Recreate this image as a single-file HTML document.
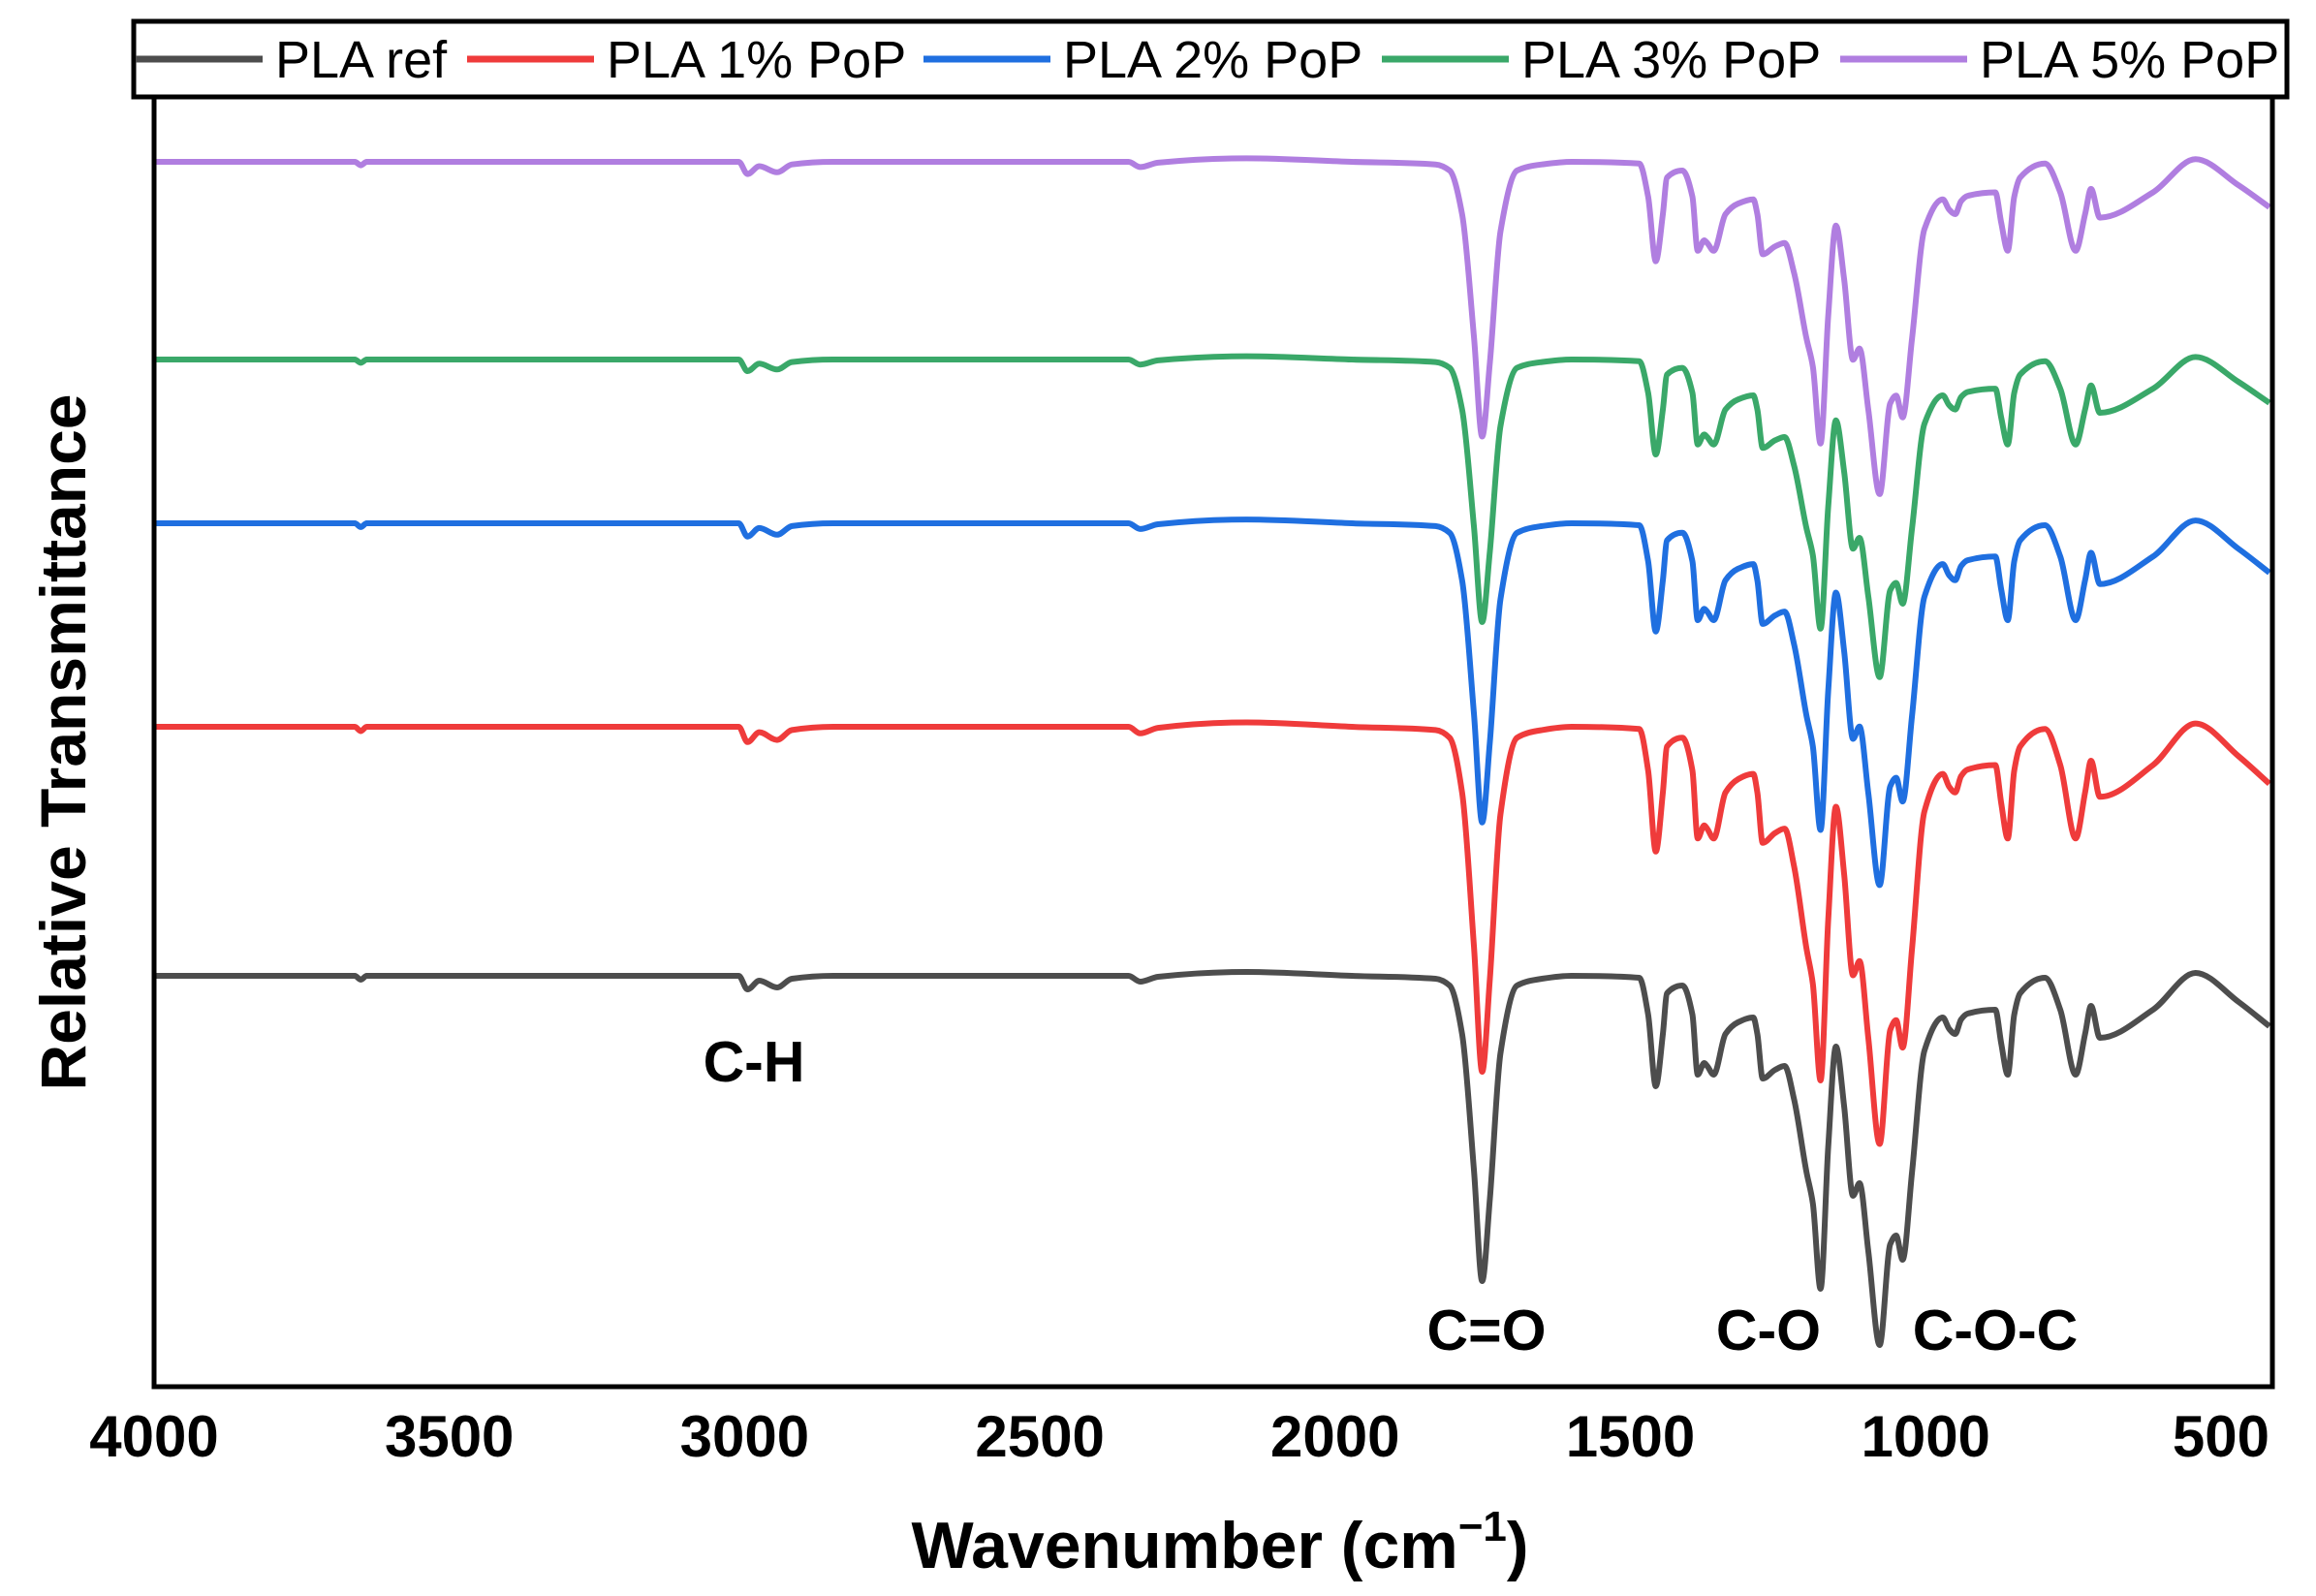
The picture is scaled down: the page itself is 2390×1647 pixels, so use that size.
<!DOCTYPE html>
<html><head><meta charset="utf-8"><style>
html,body{margin:0;padding:0;background:#fff}
svg{display:block}
text{font-family:"Liberation Sans",Arial,sans-serif}
</style></head><body>
<svg id="chart" width="2390" height="1647" viewBox="0 0 2390 1647">
<g id="series"></g>
<rect x="159" y="63" width="2186" height="1368" fill="none" stroke="#000" stroke-width="5"/>
<g id="xticks"></g>
<text x="1259" y="1618" text-anchor="middle" font-size="68" font-weight="bold">Wavenumber (cm<tspan dy="-28" font-size="44">−1</tspan><tspan dy="28">)</tspan></text>
<text transform="translate(88,766) rotate(-90)" text-anchor="middle" font-size="66" font-weight="bold">Relative Transmittance</text>
<text x="778" y="1116" text-anchor="middle" font-size="59" font-weight="bold">C-H</text>
<text x="1534" y="1393" text-anchor="middle" font-size="59" font-weight="bold">C=O</text>
<text x="1825" y="1393" text-anchor="middle" font-size="59" font-weight="bold">C-O</text>
<text x="2059" y="1393" text-anchor="middle" font-size="59" font-weight="bold">C-O-C</text>
<g>
<rect x="138" y="22" width="2222" height="78" fill="#fff" stroke="#000" stroke-width="5"/>
<g id="legend"></g>
</g>
</svg>
<script>
const seriesNames = ["PLA ref","PLA 1% PoP","PLA 2% PoP","PLA 3% PoP","PLA 5% PoP"];
const seriesColors = ["#4d4d4d","#ef3b3b","#1f6fe0","#3aa869","#b07ee0"];
const seriesOffsets = [430, 687, 897, 1066, 1270];
const seriesScales = [1.0, 1.13, 0.98, 0.86, 0.9];
const wavenumbers = [4000,3660,3650,3640,3010,2995,2975,2945,2920,2850,2350,2330,2300,2150,1972,1830,1806,1785,1765,1751,1738,1720,1692,1650,1600,1485,1470,1457,1445,1438,1412,1395,1386,1375,1370,1359,1339,1318,1292,1285,1276,1255,1239,1223,1202,1191,1178,1165,1152,1138,1123,1112,1097,1078,1060,1050,1039,1023,1002,971,960,950,940,929,882,872,861,850,840,798,772,746,730,720,705,615,543,470,418];
const absorbance = [0,0,4,0,0,14,5,12,3,0,0,6,1,-4,0,3,10,60,200,315,230,80,10,3,0,2,40,114,60,18,10,40,102,90,93,102,60,48,43,60,106,97,93,127,202,235,323,177,73,135,227,214,285,381,277,268,293,202,77,43,55,60,45,39,35,70,102,40,18,2,35,102,60,31,64,35,-3,27,52];
const xTicks = [4000,3500,3000,2500,2000,1500,1000,500];

const NS="http://www.w3.org/2000/svg";
const x = wn => 159 + (4000 - wn) / 500 * 304.7;
const y = v => 1437 - v;
function monotonePath(pts){
  const n = pts.length, dx = [], m = [], t = [];
  for (let i = 0; i < n-1; i++) { dx.push(pts[i+1][0]-pts[i][0]); m.push((pts[i+1][1]-pts[i][1])/dx[i]); }
  t[0] = m[0]; t[n-1] = m[n-2];
  for (let i = 1; i < n-1; i++) {
    if (m[i-1]*m[i] <= 0) t[i] = 0;
    else { const w1 = 2*dx[i]+dx[i-1], w2 = dx[i]+2*dx[i-1]; t[i] = (w1+w2)/(w1/m[i-1]+w2/m[i]); }
  }
  let d = "M" + pts[0][0].toFixed(1) + "," + pts[0][1].toFixed(1);
  for (let i = 0; i < n-1; i++) {
    const h = dx[i]/3;
    d += "C" + (pts[i][0]+h).toFixed(1) + "," + (pts[i][1]+t[i]*h).toFixed(1) + " " +
         (pts[i+1][0]-h).toFixed(1) + "," + (pts[i+1][1]-t[i+1]*h).toFixed(1) + " " +
         pts[i+1][0].toFixed(1) + "," + pts[i+1][1].toFixed(1);
  }
  return d;
}
const sg = document.getElementById('series');
for (let s = 0; s < seriesNames.length; s++) {
  const pts = [];
  for (let i = 0; i < wavenumbers.length; i++) {
    const v = seriesOffsets[s] - seriesScales[s] * absorbance[i];
    pts.push([x(wavenumbers[i]), y(v)]);
  }
  const p = document.createElementNS(NS, "path");
  p.setAttribute("d", monotonePath(pts));
  p.setAttribute("fill", "none");
  p.setAttribute("stroke", seriesColors[s]);
  p.setAttribute("stroke-width", "6");
  p.setAttribute("stroke-linejoin", "round");
  
  
  sg.appendChild(p);
}
const xg = document.getElementById('xticks');
for (const t of xTicks) {
  const tx = document.createElementNS(NS, "text");
  tx.setAttribute("x", x(t));
  tx.setAttribute("y", 1503);
  tx.setAttribute("text-anchor", "middle");
  tx.setAttribute("font-size", "60");
  tx.setAttribute("font-weight", "bold");
  tx.textContent = t;
  
  
  xg.appendChild(tx);
}
const legendX = [140, 482, 953, 1426, 1899];
const lg = document.getElementById('legend');
for (let s = 0; s < seriesNames.length; s++) {
  const l = document.createElementNS(NS, "line");
  l.setAttribute("x1", legendX[s]); l.setAttribute("x2", legendX[s] + 131);
  l.setAttribute("y1", 61); l.setAttribute("y2", 61);
  l.setAttribute("stroke", seriesColors[s]); l.setAttribute("stroke-width", "7");
  
  
  lg.appendChild(l);
  const t = document.createElementNS(NS, "text");
  t.setAttribute("x", legendX[s] + 144); t.setAttribute("y", 80);
  t.setAttribute("font-size", "54");
  t.textContent = seriesNames[s];
  
  
  lg.appendChild(t);
}
</script>
</body></html>
